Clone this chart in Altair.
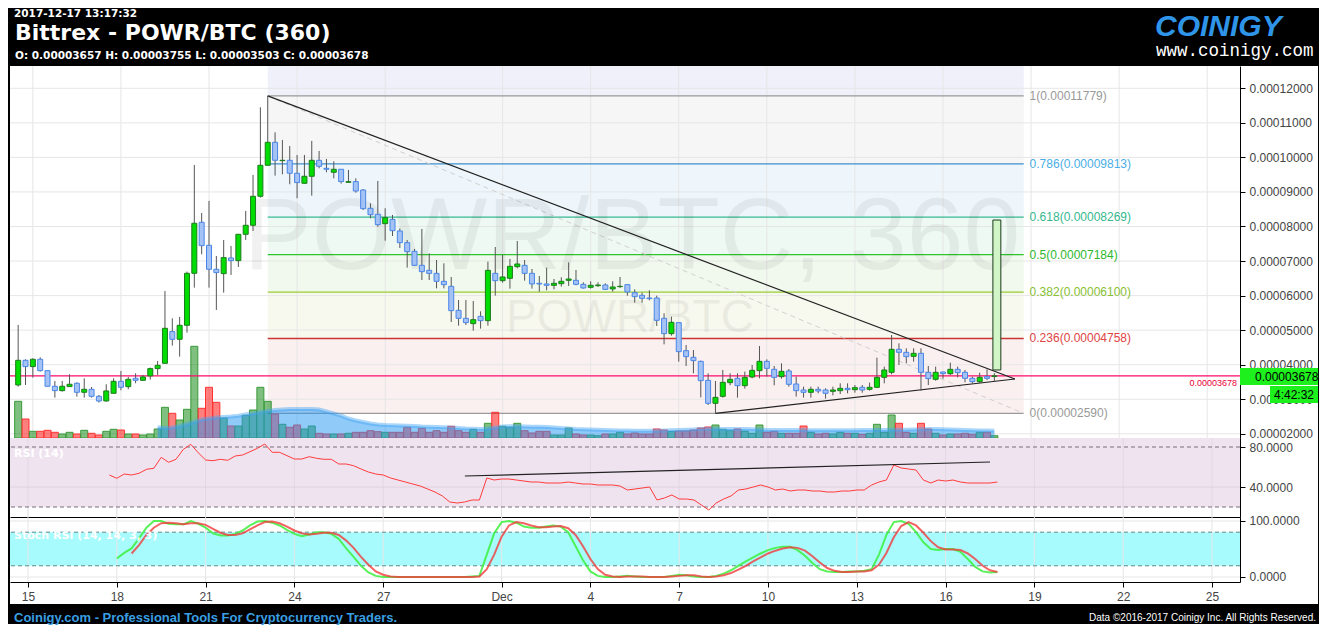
import altair as alt
import numpy as np
import pandas as pd

# ---------------- data (prices in satoshi = 1e-8 BTC), 6h candles ----------------
first_candle = "2017-11-14 12:00"
opens = [3413,4127,3944,4156,3828,3375,3249,3365,3462,3201,
         3288,3085,2950,3172,3519,3365,3606,3548,3674,3886,
         4040,4957,4735,5140,6645,8122,7456,6761,6636,7089,
         7012,7774,8035,8874,9771,10437,9906,9916,9540,9250,
         9453,9916,9684,9569,9656,9279,9298,9056,8526,8352,
         8082,8207,7870,7532,7281,6876,6731,6644,6413,6268,
         5573,5342,5188,5400,5274,6644,6432,6500,6837,6876,
         6644,6355,6336,6297,6345,6442,6442,6326,6239,6287,
         6307,6192,6259,6316,6085,6008,5931,5931,5342,4898,
         5217,4406,4213,4097,3547,2882,3084,3480,3605,3393,
         3644,3827,4097,3866,3654,3818,3441,3268,3200,3287,
         3268,3229,3248,3316,3277,3345,3287,3345,3634,3779,
         4445,4358,4242,4329,3779,3576,3788,3740,3866,3779,
         3605,3509,3654,3657]
highs = [5150,4156,4185,4214,3828,3529,3529,3722,3491,3606,
         3355,3124,3433,3606,3819,3645,3751,3703,3915,4108,
         6134,5343,5381,6694,9781,8392,8739,7147,7610,7437,
         7774,8450,9492,11450,11779,10726,10505,10331,10070,10070,
         10476,10186,9955,9887,9656,9636,9394,9085,8670,9317,
         8526,8333,7947,7609,7349,7928,7223,7030,6934,6538,
         5873,5873,5844,5545,6982,7407,7175,7059,7580,7030,
         6770,6567,6808,6480,6529,6963,6741,6384,6413,6384,
         6355,6413,6538,6335,6181,6085,6152,5998,5487,5390,
         5217,4570,4425,4117,3750,3528,3847,3750,3750,3798,
         3991,4541,4155,3962,4039,3876,3654,3364,3364,3364,
         3316,3364,3461,3461,3412,3412,3480,4203,3943,4859,
         4618,4474,4474,4474,3962,3943,3798,4059,3943,3847,
         3654,3769,3866,3755]
lows = [3365,3413,3626,3799,3375,3047,3220,3365,3076,3047,
        3047,2902,2931,3172,3259,3288,3462,3529,3568,3703,
        4040,4552,4233,4928,6230,7195,6230,5584,6086,6597,
        6829,7610,7871,8835,9771,9472,9511,9221,8816,9250,
        8893,9684,9569,9395,9241,9260,8979,8478,8236,7995,
        7590,7725,7378,6808,6857,6451,6451,6210,6210,5236,
        5130,5149,4985,5043,5130,5998,6374,6201,6789,6432,
        6201,6114,6152,6181,6259,6278,6297,6201,6201,6249,
        6162,6114,6220,5998,5795,5795,5863,5120,4589,4840,
        4088,3962,3750,3055,2833,2590,3046,3403,3046,3306,
        3605,3605,3654,3403,3596,3364,3075,3046,3046,3171,
        3017,3113,3152,3171,3190,3190,3248,3325,3461,3721,
        3991,4039,4088,3248,3412,3537,3596,3702,3634,3489,
        3461,3461,3557,3503]
closes = [4127,3944,4156,3828,3375,3249,3375,3433,3201,3288,
          3085,2950,3240,3519,3346,3577,3548,3645,3886,3982,
          5053,4735,5140,6645,8093,7446,6761,6665,7099,7012,
          7774,8035,8874,9771,10437,9916,9916,9540,9270,9453,
          9916,9742,9656,9656,9299,9299,9027,8516,8342,8053,
          8256,7879,7532,7272,6876,6693,6644,6413,6316,5564,
          5342,5217,5303,5274,6731,6432,6538,6847,6915,6644,
          6336,6336,6297,6355,6413,6480,6326,6220,6297,6307,
          6181,6249,6268,6104,5969,5921,5911,5284,4898,5226,
          4377,4232,4117,3538,2882,3055,3489,3576,3393,3634,
          3837,4097,3895,3634,3808,3432,3248,3200,3287,3239,
          3171,3268,3316,3277,3335,3268,3345,3634,3847,4445,
          4358,4232,4329,3779,3596,3779,3740,3866,3769,3605,
          3509,3634,3605,3678]
volume_btc = [367,190,67,67,77,57,40,57,40,77,
              47,30,67,87,80,40,40,30,40,90,
              307,247,180,287,917,297,507,357,200,120,
              120,227,280,507,367,240,137,107,130,90,
              120,47,40,40,40,47,57,57,73,63,
              57,57,57,107,57,97,57,73,57,117,
              73,57,87,57,147,257,117,107,147,73,
              50,67,67,30,30,100,40,30,30,23,
              40,40,57,40,50,40,40,90,80,65,
              70,70,80,100,110,130,87,73,90,67,
              47,130,57,67,47,47,47,120,57,40,
              47,40,57,47,47,37,47,137,57,230,
              147,57,47,147,90,47,30,40,40,47,
              37,57,57,23]
# volume moving average, from candle 20
volume_ma = [107,100,105,120,140,160,185,195,205,210,
             215,223,235,245,257,270,280,285,290,290,
             290,290,285,265,245,223,195,175,160,145,
             135,130,128,125,123,120,115,113,110,107,
             105,100,95,92,90,95,105,115,117,117,
             115,113,113,110,105,100,95,90,88,85,
             83,80,78,76,75,73,73,73,73,75,
             77,80,83,86,90,92,92,90,90,90,
             90,88,85,80,80,80,80,80,80,78,
             77,77,77,77,77,78,80,80,80,80,
             82,82,83,85,88,90,90,87,85,83,
             80,78,76,74,73]
# RSI(14), from candle 14
rsi_vals = [52,48.7,53,52,53.7,57.7,58.7,69.7,64.7,67.7,
            77.7,82.7,74.3,67,66.3,67.7,66.7,71,72,75.3,
            78.7,83,74.7,74.7,71.3,68,68,70.3,68.7,67.7,
            67.7,63,63,61.3,58,55,53,52,49,47,
            45,43,41,38,35,31,25,24,25,27,
            27,49,47,48,48,47,46,45,45,44,
            44,44,45,44,43,43,42,42,42,41,
            37,38,39,40,27,29,32,28,28,27,
            22,17,24,28,31,37,38,40,42,40,
            37,38,36,37,37,36,36,35,35,36,
            36,37,37,42,45,47,62,59,58,57,
            47,44,47,46,47,45,44,44,44,44,
            45]
# Stoch RSI %K from candle 15, %D from candle 17
stoch_k = [33,43,51,69,88,100,100,95,94,94,
           100,95,88,78,74,74,77,83,92,99,
           100,97,92,84,77,73,76,80,80,77,
           68,51,36,20,8,2,0,0,0,0,
           0,0,0,0,0,0,0,0,1,2,
           40,78,98,100,97,90,88,88,90,92,
           90,80,55,30,10,2,0,0,1,2,
           1,0,0,0,0,2,4,3,1,0,
           0,2,6,12,20,28,35,42,48,52,
           54,54,48,38,25,14,10,9,9,10,
           10,11,14,40,75,98,100,95,80,62,
           50,48,50,50,45,32,18,10,8,9]
stoch_d = [42,57,75,88,96,97,96,94,96,96,
           93,86,79,75,75,78,85,92,98,99,
           96,90,83,78,76,77,79,79,75,65,
           52,36,22,10,4,1,0,0,0,0,
           0,0,0,0,0,0,0,1,14,40,
           72,92,98,96,92,89,89,90,91,87,
           75,55,32,14,4,1,0,1,1,1,
           0,0,0,1,2,3,3,1,0,1,
           3,7,13,20,28,35,42,47,51,53,
           52,47,37,26,16,11,9,9,10,10,
           12,22,43,71,91,98,92,79,64,53,
           49,49,48,42,32,20,12,9]

# Fibonacci retracement
fib_ratio = ["1", "0.786", "0.618", "0.5", "0.382", "0.236", "0"]
fib_sat = [11779, 9813, 8269, 7184, 6100, 4758, 2590]
fib_line_color = ["#9a9a9a", "#3b8fcc", "#35b890", "#2ec52e", "#99cc33", "#cc3333", "#9a9a9a"]
fib_text_color = ["#999999", "#4aaee6", "#35b890", "#2eb82e", "#88c033", "#e04444", "#999999"]
fib_band_color = ["#eff0fa", "#f6f6f6", "#eef6fb", "#eff9f4", "#f1f9ee", "#f8f9ee", "#fbf0f0"]
fib_start_day, fib_end_day, fib_label_day = 23.0, 48.75, 48.95

# trend lines (day, satoshi)
tri_seg = ["upper", "upper", "lower", "lower"]
tri_day = [23.0, 48.45, 38.25, 48.45]
tri_sat = [11779, 3586, 2590, 3586]
proj_day = [47.70, 47.97]
proj_sat = [3847, 8187]
rsi_trend_day = [29.76, 47.5]
rsi_trend_val = [51, 65]

tick_days = [15, 18, 21, 24, 27, 31, 34, 37, 40, 43, 46, 49, 52, 55]
price_ticks_sat = [2000, 3000, 4000, 5000, 6000, 7000, 8000, 9000, 10000, 11000, 12000]

# ---------------- frames ----------------
SAT = 1e-8
n = len(opens)
times = pd.date_range(first_candle, periods=n, freq="6h")
day = ((times - pd.Timestamp("2017-10-31")) / pd.Timedelta(days=1)).to_numpy()

c = pd.DataFrame({
    "day": day,
    "open": np.array(opens) * SAT, "high": np.array(highs) * SAT,
    "low": np.array(lows) * SAT, "close": np.array(closes) * SAT,
    "volume": volume_btc,
})
up = c["close"] >= c["open"]
c["bfill"] = np.where(up, "#00dd00", "#a4c2f4")
c["bstroke"] = np.where(up, "#1e7b1e", "#4a86e8")
c["vfill"] = np.where(up, "#008000", "#ff0000")
c["vstroke"] = np.where(up, "#3a9a3a", "#ff3333")

ma_df = pd.DataFrame({"day": day[19:], "ma": volume_ma})
rsi_df = pd.DataFrame({"day": day[13:], "rsi": rsi_vals})
k_df = pd.DataFrame({"day": day[14:], "v": stoch_k})
d_df = pd.DataFrame({"day": day[16:], "v": stoch_d})

fib_df = pd.DataFrame({
    "x1": fib_start_day, "x2": fib_end_day, "lx": fib_label_day,
    "p": np.array(fib_sat) * SAT,
    "lc": fib_line_color, "tc": fib_text_color,
    "label": [f"{r}({v * SAT:.8f})" for r, v in zip(fib_ratio, fib_sat)],
})
band_top = [12645] + fib_sat[:-1]
band_df = pd.DataFrame({
    "x1": fib_start_day, "x2": fib_end_day,
    "top": np.array(band_top) * SAT, "bot": np.array(fib_sat) * SAT,
    "col": fib_band_color,
})
tri_df = pd.DataFrame({"seg": tri_seg, "day": tri_day, "p": np.array(tri_sat) * SAT})
dash_df = pd.DataFrame({"day": [fib_start_day, fib_end_day], "p": [fib_sat[0] * SAT, fib_sat[-1] * SAT]})
proj_df = pd.DataFrame({"x1": [proj_day[0]], "x2": [proj_day[1]], "lo": [proj_sat[0] * SAT], "hi": [proj_sat[1] * SAT]})
last_df = pd.DataFrame({"p": [closes[-1] * SAT]})
pgrid_df = pd.DataFrame({"p": [v * SAT for v in price_ticks_sat]})
vgrid_df = pd.DataFrame({"d": tick_days})
rtrend_df = pd.DataFrame({"day": rsi_trend_day, "v": rsi_trend_val})

# ---------------- scales / axes ----------------
W = 1230
XS = alt.Scale(domain=[14.392, 55.946], nice=False, zero=False)
PS = alt.Scale(domain=[1878 * SAT, 12645 * SAT], nice=False, zero=False)
VS = alt.Scale(domain=[0, 3720], nice=False)
RS = alt.Scale(domain=[10, 89], nice=False, zero=False)
SS = alt.Scale(domain=[-8.93, 107.1], nice=False, zero=False)

AX_COMMON = dict(grid=False, domainColor="black", tickColor="black", tickSize=5,
                 labelColor="#444444", labelFontSize=12, labelFont="Liberation Sans",
                 labelPadding=4, labelOverlap=False, tickCount=40)
XAX_PLAIN = alt.Axis(values=tick_days, labels=False, ticks=False, grid=False,
                     domainColor="black", title="", tickCount=40)
XAX_LAB = alt.Axis(values=tick_days, title="", labelFlush=False,
                   labelExpr="datum.value == 31 ? 'Dec' : (datum.value > 31 ? '' + (datum.value - 30) : '' + datum.value)",
                   **AX_COMMON)
PAX = alt.Axis(orient="right", values=[v * SAT for v in price_ticks_sat], format=".8f",
               title="", **AX_COMMON)
RAX = alt.Axis(orient="right", values=[40, 80], format=".4f", title="", **AX_COMMON)
SAX = alt.Axis(orient="right", values=[0, 100], format=".4f", title="", **AX_COMMON)
U = alt.Undefined


def X(field, axis=U):
    return alt.X(f"{field}:Q", scale=XS, axis=axis, title="")


def Y(field, scale, axis=U):
    return alt.Y(f"{field}:Q", scale=scale, axis=axis, title="")


def one():
    return alt.Chart(pd.DataFrame({"t": [""]}))


def vrect(x1, x2, y1, y2, color):
    return one().mark_rect(color=color).encode(
        x=alt.value(x1), x2=alt.value(x2), y=alt.value(y1), y2=alt.value(y2))


def vtext(s, x, y, size, color, weight="normal", font="Liberation Sans",
          align="left", style="normal", baseline="alphabetic", opacity=1.0):
    return alt.Chart(pd.DataFrame({"t": [s]})).mark_text(
        align=align, baseline=baseline, fontSize=size, font=font, fontWeight=weight,
        fontStyle=style, color=color, opacity=opacity
    ).encode(x=alt.value(x), y=alt.value(y), text="t:N")


# ---------------- price panel ----------------
back = alt.layer(
    vrect(-2, 1309, -58, 0, "black"),
    vrect(-2, 1309, 538, 558, "black"),
    vrect(-2, 0, 0, 538, "black"),
    vrect(1308, 1309, 0, 538, "black"),
)

vgrid = alt.Chart(vgrid_df).mark_rule(color="#e6e6e6").encode(x=X("d", XAX_PLAIN))
bands = alt.Chart(band_df).mark_rect().encode(
    x=X("x1"), x2="x2", y=Y("top", PS, None), y2="bot",
    color=alt.Color("col:N", scale=None))
pgrid = alt.Chart(pgrid_df).mark_rule(color="#e6e6e6").encode(y=Y("p", PS, None))
fib_lines = alt.Chart(fib_df).mark_rule(strokeWidth=1.3).encode(
    x=X("x1"), x2="x2", y=Y("p", PS, None), color=alt.Color("lc:N", scale=None))
fib_labels = alt.Chart(fib_df).mark_text(align="left", baseline="middle", fontSize=12,
                                          font="Liberation Sans").encode(
    x=X("lx"), y=Y("p", PS, None), text="label:N", color=alt.Color("tc:N", scale=None))
dash_line = alt.Chart(dash_df).mark_line(color="#d0d0d0", strokeWidth=1, strokeDash=[5, 4]).encode(
    x=X("day"), y=Y("p", PS, None))
price_under = alt.layer(bands, vgrid, pgrid, fib_lines, fib_labels, dash_line)

watermark = alt.layer(
    vtext("POWR/BTC, 360", 622, 203, 102, "#000000", align="center", opacity=0.05),
    vtext("POWR/BTC", 620, 266, 46, "#000000", align="center", opacity=0.05),
)

vol_bars = alt.Chart(c).mark_bar(size=7, strokeWidth=1, fillOpacity=0.5).encode(
    x=X("day"), y=Y("volume", VS, None),
    fill=alt.Fill("vfill:N", scale=None), stroke=alt.Stroke("vstroke:N", scale=None))
vol_area = alt.Chart(ma_df).mark_area(color="#2196f3", opacity=0.5).encode(
    x=X("day"), y=Y("ma", VS, None))
vol_line = alt.Chart(ma_df).mark_line(color="#42a5f5", strokeWidth=4, opacity=0.45).encode(
    x=X("day"), y=Y("ma", VS, None))
volume = alt.layer(vol_bars, vol_area, vol_line)

# first child carries the visible price axis
last_line = alt.Chart(last_df).mark_rule(color="#ff0a6c", strokeWidth=1.3).encode(y=Y("p", PS, PAX))
tri = alt.Chart(tri_df).mark_line(color="#222222", strokeWidth=1.2).encode(
    x=X("day"), y=Y("p", PS), detail="seg:N")
wicks = alt.Chart(c).mark_rule(color="#555555", strokeWidth=1).encode(
    x=X("day"), y=Y("low", PS), y2="high")
bodies = alt.Chart(c).mark_bar(size=5, strokeWidth=1).encode(
    x=X("day"), y=Y("open", PS), y2="close",
    fill=alt.Fill("bfill:N", scale=None), stroke=alt.Stroke("bstroke:N", scale=None))
proj = alt.Chart(proj_df).mark_rect(fill="#d2f5c8", stroke="#1a3a1a", strokeWidth=1).encode(
    x=X("x1"), x2="x2", y=Y("lo", PS), y2="hi")
price_over = alt.layer(last_line, tri, wicks, bodies, proj)

front = alt.layer(
    vrect(1230, 1308, 302, 319, "#1ef01e"),
    vtext("0.00003678", 1245, 315, 12, "#000000"),
    vrect(1260, 1308, 320, 337, "#1ef01e"),
    vtext("4:42:32", 1304, 333, 12, "#000000", align="right"),
    vtext("0.00003678", 1227, 320, 9, "#e8003a", align="right"),
    vtext("2017-12-17 13:17:32", 4, -49, 10.5, "white", weight="bold", font="DejaVu Sans"),
    vtext("Bittrex - POWR/BTC (360)", 5, -26, 22, "white", weight="bold", font="DejaVu Sans"),
    vtext("O: 0.00003657 H: 0.00003755 L: 0.00003503 C: 0.00003678", 5, -7, 10.5, "white",
          weight="bold", font="DejaVu Sans"),
    vtext("COINIGY", 1145, -30, 30, "#2f95e8", weight="bold", style="italic"),
    vtext("www.coinigy.com", 1146, -10, 17.5, "white", font="Liberation Mono"),
    vtext("Coinigy.com - Professional Tools For Cryptocurrency Traders.", 4, 556, 13, "#3a9fe2",
          weight="bold"),
    vtext("Data \u00a92016-2017 Coinigy Inc. All Rights Reserved.", 1306, 555, 10, "white",
          align="right"),
)

price_panel = alt.layer(back, price_under, watermark, volume, price_over, front).resolve_scale(
    y="independent").properties(width=W, height=372)

# ---------------- RSI panel ----------------
rsi_band = alt.Chart(pd.DataFrame({"lo": [20], "hi": [89]})).mark_rect(color="#f0e3f0").encode(
    x=alt.value(0), x2=alt.value(W), y=Y("hi", RS, RAX), y2="lo")
rsi_vgrid = alt.Chart(vgrid_df).mark_rule(color="#e2d8e2").encode(x=X("d", XAX_PLAIN))
rsi_hgrid = alt.Chart(pd.DataFrame({"v": [40]})).mark_rule(color="#ddd2dd").encode(y=Y("v", RS))
rsi_dash = alt.Chart(pd.DataFrame({"v": [80, 20]})).mark_rule(
    color="#7a6e7a", strokeDash=[4, 3]).encode(y=Y("v", RS))
rsi_line = alt.Chart(rsi_df).mark_line(color="#ff3b3b", strokeWidth=1).encode(
    x=X("day"), y=Y("rsi", RS))
rsi_tr = alt.Chart(rtrend_df).mark_line(color="#222222", strokeWidth=1.2).encode(
    x=X("day"), y=Y("v", RS))
rsi_lab = vtext("RSI (14)", 4, 19, 11, "white", weight="bold", font="DejaVu Sans")
rsi_panel = alt.layer(rsi_band, rsi_vgrid, rsi_hgrid, rsi_dash, rsi_line, rsi_tr, rsi_lab).properties(
    width=W, height=79)

# ---------------- Stoch RSI panel ----------------
st_band = alt.Chart(pd.DataFrame({"lo": [20], "hi": [80]})).mark_rect(color="#a8fbfd").encode(
    x=alt.value(0), x2=alt.value(W), y=Y("hi", SS, SAX), y2="lo")
st_vgrid = alt.Chart(vgrid_df).mark_rule(color="#e6e6e6").encode(x=X("d", XAX_LAB))
st_hgrid = alt.Chart(pd.DataFrame({"v": [0, 100]})).mark_rule(color="#e6e6e6").encode(y=Y("v", SS))
st_dash = alt.Chart(pd.DataFrame({"v": [80, 20]})).mark_rule(
    color="#5f8c8c", strokeDash=[4, 3]).encode(y=Y("v", SS))
st_k = alt.Chart(k_df).mark_line(color="#3cf03c", strokeWidth=2, opacity=0.85).encode(
    x=X("day"), y=Y("v", SS))
st_d = alt.Chart(d_df).mark_line(color="#f03c3c", strokeWidth=2, opacity=0.8).encode(
    x=X("day"), y=Y("v", SS))
st_lab = vtext("Stoch RSI (14, 14, 3, 3)", 4, 22, 11, "white", weight="bold", font="DejaVu Sans")
stoch_panel = alt.layer(st_band, st_vgrid, st_hgrid, st_dash, st_k, st_d, st_lab).properties(
    width=W, height=65)

chart = alt.vconcat(price_panel, rsi_panel, stoch_panel, spacing=0, bounds="flush").properties(
    background="white", padding=0
).configure_view(strokeWidth=0).configure_axis(labelOverlap=False)

chart.save("out.html", embed_options={"renderer": "svg", "actions": False})
